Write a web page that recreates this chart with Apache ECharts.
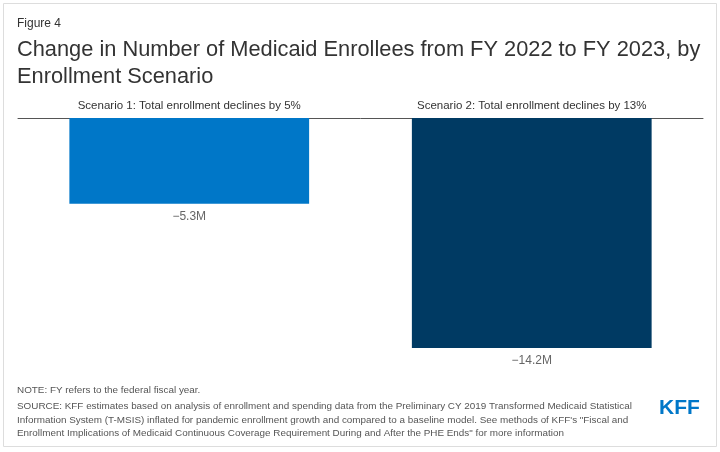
<!DOCTYPE html>
<html>
<head>
<meta charset="utf-8">
<script src="https://cdn.jsdelivr.net/npm/echarts@6/dist/echarts.min.js"></script>
<style>html,body{margin:0;padding:0;background:#fff;}#c{width:720px;height:452px;}</style>
</head>
<body>
<div id="c"></div>
<script>
var categories = ['Scenario 1: Total enrollment declines by 5%', 'Scenario 2: Total enrollment declines by 13%'];
var values = [-5.3, -14.2];
var valueLabels = ['\u22125.3M', '\u221214.2M'];
var colors = ['#0077c8', '#003a63'];

var chart = echarts.init(document.getElementById('c'), null, {renderer: 'canvas'});
var font = 'Liberation Sans, Arial, Helvetica, sans-serif';
chart.setOption({
  animation: false,
  textStyle: {fontFamily: font},
  title: [
    {text: 'Figure 4', left: 12, top: 13, textStyle: {fontSize: 12, fontWeight: 'normal', color: '#333', fontFamily: font}},
    {text: 'Change in Number of Medicaid Enrollees from FY 2022 to FY 2023, by\nEnrollment Scenario', left: 12, top: 31,
      textStyle: {fontSize: 21.8, fontWeight: 'normal', color: '#333', lineHeight: 27, fontFamily: font}}
  ],
  grid: {left: 18, right: 17, top: 118, bottom: 104},
  xAxis: {
    type: 'category', position: 'top', data: categories,
    axisLine: {lineStyle: {color: '#555', width: 1}},
    axisTick: {show: false},
    axisLabel: {color: '#333', fontSize: 11.5, margin: 6, fontFamily: font}
  },
  yAxis: {type: 'value', min: -14.2, max: 0, show: false, splitLine: {show: false}},
  series: [{
    type: 'bar', barWidth: '70%',
    data: values.map(function (v, i) { return {value: v, itemStyle: {color: colors[i]}}; }),
    label: {show: true, position: 'bottom', distance: 7, color: '#666', fontSize: 12, fontFamily: font,
      formatter: function (p) { return valueLabels[p.dataIndex]; }}
  }],
  graphic: [
    {type: 'rect', shape: {x: 3.5, y: 3.5, width: 713, height: 443}, style: {fill: 'none', stroke: '#ddd', lineWidth: 1}, silent: true, z: -1},
    {type: 'text', left: 17, top: 385, style: {text: 'NOTE: FY refers to the federal fiscal year.', fill: '#555', fontSize: 9.9, fontFamily: font}},
    {type: 'text', left: 17, top: 400, style: {
      text: 'SOURCE: KFF estimates based on analysis of enrollment and spending data from the Preliminary CY 2019 Transformed Medicaid Statistical\nInformation System (T-MSIS) inflated for pandemic enrollment growth and compared to a baseline model. See methods of KFF\'s "Fiscal and\nEnrollment Implications of Medicaid Continuous Coverage Requirement During and After the PHE Ends" for more information',
      fill: '#555', fontSize: 9.9, lineHeight: 13.5, fontFamily: font}},
    {type: 'text', left: 659, top: 398, style: {text: 'KFF', fill: '#0077c8', fontSize: 21, fontWeight: 'bold', fontFamily: font}}
  ]
});
</script>
</body>
</html>
